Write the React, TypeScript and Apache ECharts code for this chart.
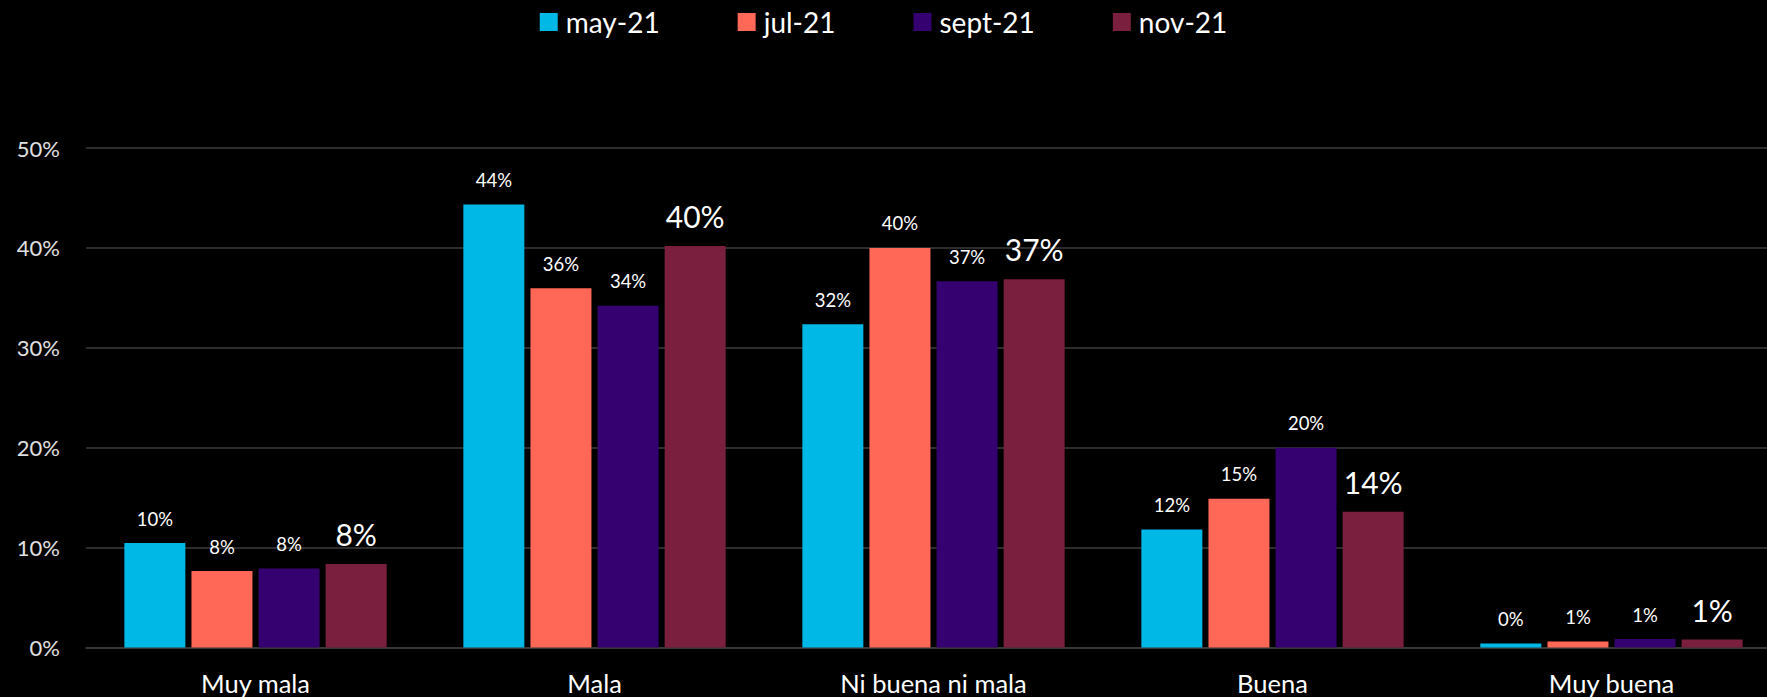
import React, { useEffect, useRef } from "react";
import * as echarts from "echarts";

const categories = ["Muy mala", "Mala", "Ni buena ni mala", "Buena", "Muy buena"];
const seriesNames = ["may-21", "jul-21", "sept-21", "nov-21"];
const may21 = [10.45, 44.35, 32.35, 11.8, 0.4];
const jul21 = [7.65, 35.95, 40.0, 14.9, 0.6];
const sept21 = [7.9, 34.2, 36.65, 20.0, 0.85];
const nov21 = [8.35, 40.2, 36.85, 13.6, 0.8];
const colors = ["#00b8e6", "#ff6756", "#35006f", "#7a1f3d"];
const labelSizes = [18.5, 18.5, 18.5, 30];
const yTicks = { min: 0, max: 50, interval: 10 };

export default function App() {
  const ref = useRef<HTMLDivElement>(null);
  useEffect(() => {
    if (!ref.current) return;
    const chart = echarts.init(ref.current, null, { renderer: "svg" });
    const data = [may21, jul21, sept21, nov21];
    const font = "Lato";
    chart.setOption({
      animation: false,
      backgroundColor: "#000000",
      textStyle: { fontFamily: font },
      legend: {
        data: seriesNames,
        top: 8,
        left: "center",
        itemWidth: 18,
        itemHeight: 18,
        itemGap: 78,
        padding: 0,
        icon: "rect",
        textStyle: { color: "#ffffff", fontSize: 28, fontFamily: font, padding: [0, 0, 0, 3] },
      },
      grid: {
        left: 86,
        width: 1695,
        top: 148,
        height: 499.5,
        containLabel: false,
        outerBoundsMode: "none",
      },
      xAxis: {
        type: "category",
        data: categories,
        axisLine: { show: true, lineStyle: { color: "#3c3c3c", width: 1.5 } },
        axisTick: { show: false },
        axisLabel: { color: "#ffffff", fontSize: 25.5, margin: 22, fontFamily: font },
      },
      yAxis: {
        type: "value",
        min: yTicks.min,
        max: yTicks.max,
        interval: yTicks.interval,
        axisLine: { show: false },
        axisTick: { show: false },
        splitLine: { lineStyle: { color: "#3c3c3c", width: 1.5 } },
        axisLabel: {
          color: "#e0e0e0",
          fontSize: 22,
          margin: 26,
          fontFamily: font,
          formatter: (v: number) => `${v}%`,
        },
      },
      series: seriesNames.map((name, i) => ({
        name,
        type: "bar",
        data: data[i],
        barWidth: 61,
        barGap: "10%",
        itemStyle: { color: colors[i] },
        label: {
          show: true,
          position: "top",
          distance: i === 3 ? 15 : 15,
          color: "#ffffff",
          fontSize: labelSizes[i],
          fontFamily: font,
          formatter: (p: any) => `${Math.round(p.value)}%`,
        },
      })),
    });
    return () => chart.dispose();
  }, []);
  return (
    <div
      ref={ref}
      style={{ position: "absolute", left: 0, top: 0, width: 1767, height: 697, background: "#000" }}
    />
  );
}
